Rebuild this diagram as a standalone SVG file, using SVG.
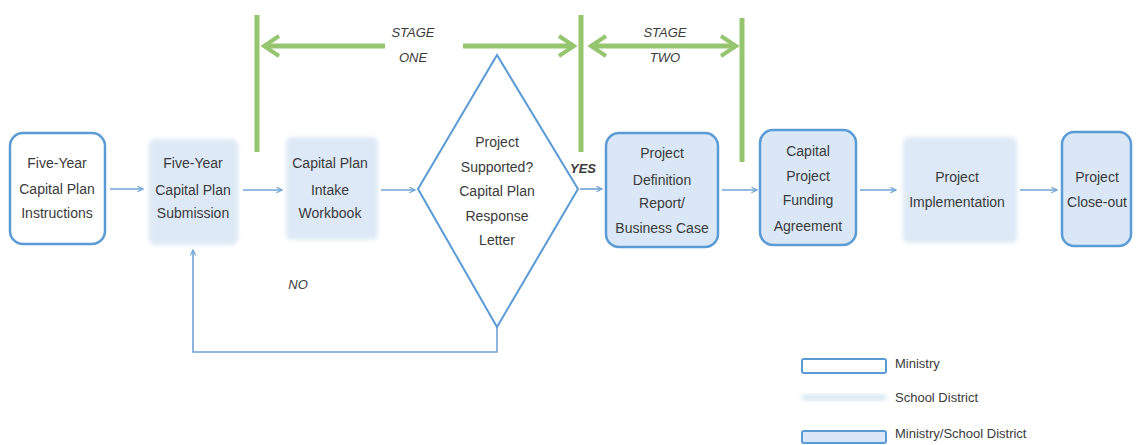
<svg xmlns="http://www.w3.org/2000/svg" width="1136" height="445" viewBox="0 0 1136 445">
<style>
.t{font-family:"Liberation Sans",Arial,sans-serif;font-size:14px;fill:#3a3a3a;text-anchor:middle}
.it{font-family:"Liberation Sans",Arial,sans-serif;font-size:13px;fill:#3a3a3a;font-style:italic;text-anchor:middle}
.lg{font-family:"Liberation Sans",Arial,sans-serif;font-size:13px;fill:#3a3a3a}
.min{fill:#ffffff;stroke:#5b9bd5;stroke-width:2.5}
.msd{fill:#d9e7f6;stroke:#5b9bd5;stroke-width:2.5}
.sd{fill:#dde9f6}
.c{fill:none;stroke:#6fa3d6;stroke-width:1.6}
.g{fill:none;stroke:#95c66f;stroke-width:5}
.ga{fill:none;stroke:#95c66f;stroke-width:5}
</style>
<defs>
<marker id="ar" viewBox="0 0 10 10" refX="9" refY="5" markerWidth="7" markerHeight="7" orient="auto" markerUnits="userSpaceOnUse">
<path d="M1,1 L9,5 L1,9" fill="none" stroke="#6fa3d6" stroke-width="1.6"/>
</marker>
<marker id="ga" viewBox="0 0 10 10" refX="8" refY="5" markerWidth="5" markerHeight="5" orient="auto-start-reverse">
<path d="M2,1 L8,5 L2,9" fill="none" stroke="#95c66f" stroke-width="1.6"/>
</marker>
<filter id="soft" x="-10%" y="-10%" width="120%" height="120%"><feGaussianBlur stdDeviation="2"/></filter>
</defs>

<g id="stages">
<line class="g" x1="257" y1="15" x2="257" y2="152"/>
<line class="g" x1="581" y1="15" x2="581" y2="152"/>
<line class="g" x1="742" y1="18" x2="742" y2="162"/>
<line class="ga" x1="385" y1="46" x2="264" y2="46" marker-end="url(#ga)"/>
<line class="ga" x1="463" y1="46" x2="574" y2="46" marker-end="url(#ga)"/>
<line class="ga" x1="591" y1="46" x2="736" y2="46" marker-start="url(#ga)" marker-end="url(#ga)"/>
<text class="it" x="413" y="37">STAGE</text>
<text class="it" x="413" y="62">ONE</text>
<text class="it" x="665" y="37">STAGE</text>
<text class="it" x="665" y="62">TWO</text>
</g>

<g id="connectors">
<line class="c" x1="110" y1="189" x2="143" y2="189" marker-end="url(#ar)"/>
<line class="c" x1="243" y1="190" x2="282" y2="190" marker-end="url(#ar)"/>
<line class="c" x1="381" y1="190" x2="415" y2="190" marker-end="url(#ar)"/>
<line class="c" x1="580" y1="189" x2="602" y2="189" marker-end="url(#ar)"/>
<line class="c" x1="722" y1="190" x2="757" y2="190" marker-end="url(#ar)"/>
<line class="c" x1="860" y1="190" x2="896" y2="190" marker-end="url(#ar)"/>
<line class="c" x1="1020" y1="190" x2="1057" y2="190" marker-end="url(#ar)"/>
<polyline class="c" points="497,327 497,352 193,352 193,250" marker-end="url(#ar)"/>
<text class="it" x="583" y="173" style="font-weight:bold">YES</text>
<text class="it" x="298" y="289">NO</text>
</g>

<g id="n1">
<rect class="min" x="10" y="133" width="95" height="111" rx="13"/>
<text class="t" x="57" y="168">Five-Year</text>
<text class="t" x="57" y="194">Capital Plan</text>
<text class="t" x="57" y="218">Instructions</text>
</g>

<g id="n2">
<rect class="sd" x="149" y="139" width="89" height="106" rx="6" filter="url(#soft)"/>
<text class="t" x="193" y="168">Five-Year</text>
<text class="t" x="193" y="195">Capital Plan</text>
<text class="t" x="193" y="218">Submission</text>
</g>

<g id="n3">
<rect class="sd" x="286" y="137" width="92" height="103" rx="6" filter="url(#soft)"/>
<text class="t" x="330" y="168">Capital Plan</text>
<text class="t" x="330" y="195">Intake</text>
<text class="t" x="330" y="218">Workbook</text>
</g>

<g id="n4">
<polygon points="497,55 578,189 497,327 418,189" fill="#ffffff" stroke="#5b9bd5" stroke-width="2"/>
<text class="t" x="497" y="147">Project</text>
<text class="t" x="497" y="172">Supported?</text>
<text class="t" x="497" y="196">Capital Plan</text>
<text class="t" x="497" y="221">Response</text>
<text class="t" x="497" y="245">Letter</text>
</g>

<g id="n5">
<rect class="msd" x="606" y="133" width="112" height="114" rx="13"/>
<text class="t" x="662" y="158">Project</text>
<text class="t" x="662" y="185">Definition</text>
<text class="t" x="662" y="208">Report/</text>
<text class="t" x="662" y="233">Business Case</text>
</g>

<g id="n6">
<rect class="msd" x="760" y="130" width="96" height="115" rx="13"/>
<text class="t" x="808" y="156">Capital</text>
<text class="t" x="808" y="181">Project</text>
<text class="t" x="808" y="205">Funding</text>
<text class="t" x="808" y="231">Agreement</text>
</g>

<g id="n7">
<rect class="sd" x="903" y="137" width="114" height="106" rx="6" filter="url(#soft)"/>
<text class="t" x="957" y="182">Project</text>
<text class="t" x="957" y="207">Implementation</text>
</g>

<g id="n8">
<rect class="msd" x="1062" y="132" width="69" height="114" rx="12"/>
<text class="t" x="1097" y="182">Project</text>
<text class="t" x="1097" y="207">Close-out</text>
</g>

<g id="legend">
<rect x="802" y="359" width="84" height="14" rx="2" fill="#ffffff" stroke="#5b9bd5" stroke-width="2"/>
<text class="lg" x="895" y="368">Ministry</text>
<rect x="802" y="394" width="84" height="7" class="sd" filter="url(#soft)"/>
<text class="lg" x="895" y="402">School District</text>
<rect x="802" y="431" width="84" height="12" rx="2" fill="#d9e7f6" stroke="#5b9bd5" stroke-width="2"/>
<text class="lg" x="895" y="438">Ministry/School District</text>
</g>
</svg>
